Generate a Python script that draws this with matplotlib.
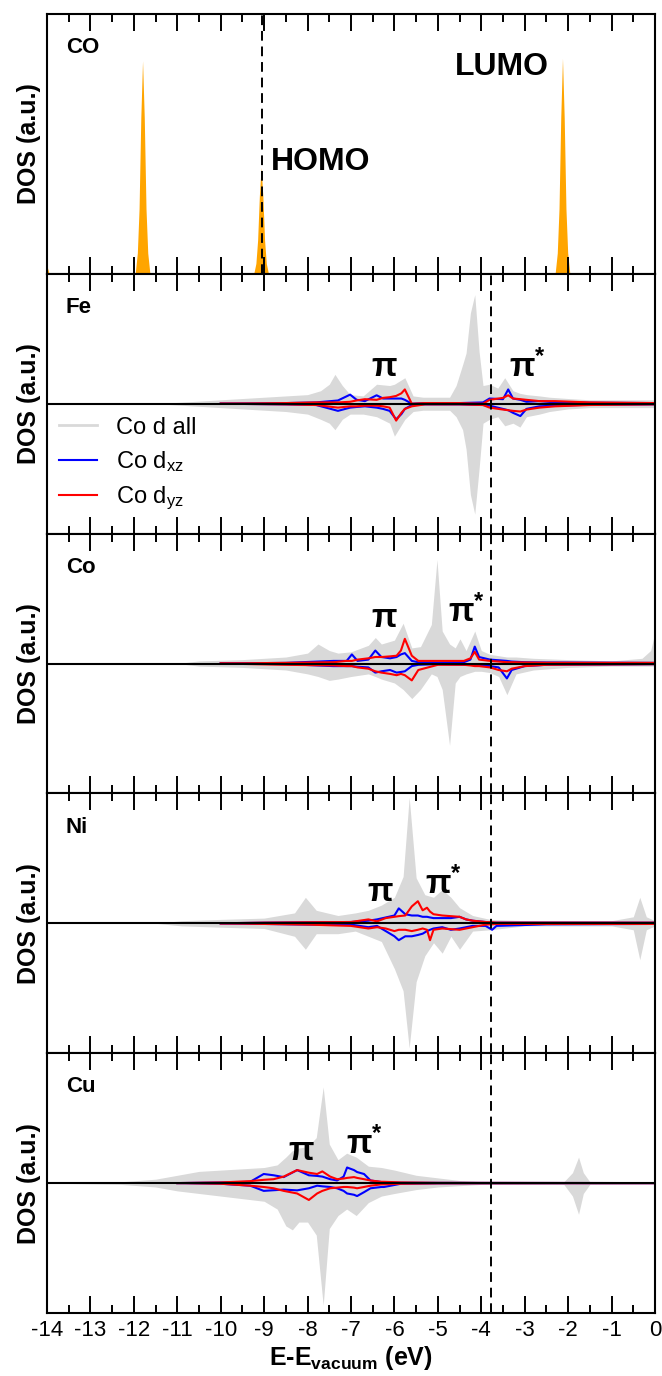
#! /usr/bin/env python3
#=======================================================================
# plot.py
#
# Projected DOS of CO on Fe, Co, Ni and Cu substrates.
#=======================================================================
import matplotlib
matplotlib.use('Agg')
import matplotlib.pyplot as plt
from matplotlib.lines import Line2D
from matplotlib.ticker import FixedLocator

# ----------------------------------------------------------------------
# Data (DOS in arbitrary units)
# ----------------------------------------------------------------------
# free CO molecule
co_e = [-14.0, -13.95, -11.97, -11.92, -11.88, -11.84, -11.8, -11.76, -11.72,
        -11.68, -11.63, -9.24, -9.19, -9.15, -9.11, -9.07, -9.03, -8.99,
        -8.95, -8.9, -2.3, -2.25, -2.21, -2.17, -2.13, -2.09, -2.05, -2.01,
        -1.96, 0.0]
co_dos = [0.03, 0.0, 0.0, 0.08, 0.25, 0.6, 0.82, 0.6, 0.25,
          0.08, 0.0, 0.0, 0.04, 0.13, 0.3, 0.41, 0.3, 0.13,
          0.04, 0.0, 0.0, 0.08, 0.25, 0.6, 0.83, 0.6, 0.25, 0.08,
          0.0, 0.0]
homo_co = -9.05
e_fermi = -3.78

# x axis ticks
xticks = [-14, -13, -12, -11, -10, -9, -8, -7, -6, -5, -4, -3, -2, -1, 0]
xminor = [-13.5, -12.5, -11.5, -10.5, -9.5, -8.5, -7.5, -6.5, -5.5, -4.5,
          -3.5, -2.5, -1.5, -0.5]

# Fe: Co d all (spin up / spin down)
fe_d_e = [-14.0, -11.5, -10.5, -10.0, -9.0, -8.5, -8.0, -7.7, -7.5, -7.37,
          -7.2, -7.02, -6.72, -6.41, -6.11, -6.0, -5.76, -5.57, -5.34, -4.73,
          -4.58, -4.43, -4.35, -4.25, -4.15, -4.05, -3.96, -3.81, -3.62, -3.46,
          -3.27, -3.11, -2.96, -2.66, -2.43, -2.0, -1.5, -1.0, -0.5, 0.0]
fe_d_up = [0.0, 0.0, 0.02, 0.03, 0.05, 0.06, 0.07, 0.1, 0.15, 0.226,
           0.14, 0.07, 0.06, 0.15, 0.14, 0.15, 0.2, 0.06, 0.05, 0.05,
           0.14, 0.3, 0.39, 0.7, 0.84, 0.4, 0.14, 0.15, 0.12, 0.2,
           0.1, 0.08, 0.07, 0.06, 0.05, 0.04, 0.03, 0.03, 0.03, 0.03]
fe_d_dn = [0.0, 0.0, 0.02, 0.03, 0.05, 0.06, 0.08, 0.12, 0.15, 0.2,
           0.12, 0.08, 0.08, 0.1, 0.15, 0.25, 0.12, 0.06, 0.05, 0.05,
           0.1, 0.2, 0.35, 0.7, 0.85, 0.5, 0.15, 0.12, 0.1, 0.17,
           0.15, 0.18, 0.1, 0.08, 0.06, 0.04, 0.03, 0.03, 0.03, 0.03]
# Fe: Co dxz / dyz (spin up / spin down)
fe_p_e = [-10.0, -8.5, -7.8, -7.3, -7.02, -6.87, -6.68, -6.41, -6.26, -6.11,
          -5.96, -5.84, -5.76, -5.6, -5.3, -4.5, -3.96, -3.81, -3.5, -3.38,
          -3.27, -3.1, -2.96, -2.66, -2.3, -1.5, 0.0]
fe_xz_up = [0.0, 0.005, 0.01, 0.025, 0.07, 0.03, 0.02, 0.065, 0.04, 0.04,
            0.04, 0.04, 0.03, 0.0, 0.005, 0.005, 0.01, 0.04, 0.035, 0.11,
            0.04, 0.03, 0.015, 0.02, 0.01, 0.008, 0.005]
fe_xz_dn = [0.0, 0.005, 0.01, 0.055, 0.03, 0.025, 0.02, 0.03, 0.04, 0.055,
            0.12, 0.08, 0.04, 0.01, 0.005, 0.005, 0.01, 0.015, 0.04, 0.05,
            0.07, 0.095, 0.04, 0.02, 0.015, 0.008, 0.005]
fe_yz_up = [0.0, 0.005, 0.01, 0.01, 0.015, 0.025, 0.035, 0.03, 0.045, 0.05,
            0.06, 0.08, 0.11, 0.0, 0.005, 0.005, 0.0, 0.03, 0.045, 0.065,
            0.04, 0.035, 0.03, 0.02, 0.02, 0.01, 0.005]
fe_yz_dn = [0.0, 0.005, 0.01, 0.03, 0.02, 0.02, 0.015, 0.015, 0.02, 0.03,
            0.13, 0.07, 0.04, 0.02, 0.005, 0.005, 0.01, 0.03, 0.045, 0.05,
            0.055, 0.06, 0.045, 0.03, 0.02, 0.01, 0.005]

# Co
co_d_e = [-14.0, -11.0, -10.5, -9.5, -8.5, -8.0, -7.76, -7.5, -7.3, -7.0,
          -6.6, -6.44, -6.3, -6.0, -5.8, -5.6, -5.4, -5.15, -5.02, -4.9,
          -4.73, -4.6, -4.49, -4.35, -4.15, -4.0, -3.8, -3.6, -3.41, -3.2,
          -2.8, -2.0, -1.0, -0.3, -0.1, 0.0]
co_d_up = [0.0, 0.0, 0.02, 0.03, 0.05, 0.08, 0.15, 0.1, 0.08, 0.09,
           0.14, 0.2, 0.15, 0.18, 0.31, 0.12, 0.13, 0.3, 0.8, 0.25,
           0.15, 0.12, 0.19, 0.1, 0.25, 0.1, 0.07, 0.06, 0.05, 0.05,
           0.04, 0.03, 0.02, 0.04, 0.1, 0.24]
co_d_dn = [0.0, 0.0, 0.02, 0.03, 0.05, 0.08, 0.1, 0.13, 0.12, 0.1,
           0.08, 0.1, 0.12, 0.15, 0.2, 0.27, 0.2, 0.08, 0.1, 0.2,
           0.63, 0.15, 0.1, 0.08, 0.06, 0.06, 0.07, 0.1, 0.24, 0.08,
           0.05, 0.03, 0.02, 0.02, 0.02, 0.02]
co_p_e = [-10.0, -8.5, -7.4, -7.1, -6.98, -6.85, -6.6, -6.44, -6.3, -6.1,
          -5.95, -5.85, -5.76, -5.6, -5.45, -5.0, -4.4, -4.25, -4.15, -4.05,
          -3.8, -3.6, -3.41, -3.3, -3.0, -2.5, 0.0]
co_xz_up = [0.0, 0.005, 0.02, 0.02, 0.07, 0.02, 0.03, 0.1, 0.05, 0.04,
            0.05, 0.07, 0.08, 0.02, 0.01, 0.005, 0.01, 0.03, 0.13, 0.05,
            0.03, 0.025, 0.02, 0.015, 0.01, 0.008, 0.005]
co_xz_dn = [0.0, 0.005, 0.02, 0.02, 0.02, 0.025, 0.03, 0.07, 0.06, 0.05,
            0.07, 0.065, 0.06, 0.02, 0.01, 0.005, 0.01, 0.01, 0.01, 0.01,
            0.02, 0.03, 0.115, 0.05, 0.02, 0.01, 0.005]
co_yz_up = [0.0, 0.005, 0.01, 0.02, 0.02, 0.03, 0.04, 0.05, 0.05, 0.055,
            0.06, 0.1, 0.19, 0.06, 0.02, 0.02, 0.02, 0.04, 0.09, 0.03,
            0.02, 0.015, 0.01, 0.01, 0.008, 0.006, 0.005]
co_yz_dn = [0.0, 0.01, 0.015, 0.02, 0.02, 0.03, 0.04, 0.06, 0.07, 0.08,
            0.09, 0.08, 0.09, 0.13, 0.05, 0.01, 0.01, 0.015, 0.02, 0.02,
            0.03, 0.05, 0.06, 0.04, 0.02, 0.01, 0.005]

# Ni
ni_d_e = [-14.0, -11.5, -10.9, -10.0, -9.0, -8.3, -8.05, -7.8, -7.3, -6.9,
          -6.6, -6.3, -6.0, -5.8, -5.66, -5.5, -5.3, -5.1, -4.9, -4.7,
          -4.5, -4.2, -3.8, -3.0, -1.0, -0.5, -0.35, -0.2, 0.0]
ni_d_up = [0.0, 0.0, 0.02, 0.03, 0.04, 0.08, 0.2, 0.1, 0.06, 0.08,
           0.1, 0.14, 0.2, 0.36, 0.97, 0.35, 0.22, 0.2, 0.26, 0.2,
           0.12, 0.06, 0.03, 0.02, 0.02, 0.05, 0.2, 0.05, 0.02]
ni_d_dn = [0.0, 0.0, 0.02, 0.03, 0.04, 0.1, 0.2, 0.08, 0.08, 0.06,
           0.1, 0.14, 0.35, 0.52, 0.96, 0.45, 0.25, 0.15, 0.23, 0.1,
           0.2, 0.06, 0.05, 0.02, 0.02, 0.05, 0.28, 0.05, 0.02]
ni_p_e = [-10.0, -9.0, -8.0, -7.0, -6.6, -6.4, -6.2, -6.0, -5.9, -5.75,
          -5.6, -5.46, -5.35, -5.25, -5.18, -5.1, -4.9, -4.7, -4.5, -4.35,
          -4.2, -3.9, -3.75, -3.65, -2.5, 0.0]
ni_xz_up = [0.0, 0.005, 0.008, 0.01, 0.02, 0.03, 0.045, 0.06, 0.115, 0.07,
            0.06, 0.06, 0.05, 0.05, 0.045, 0.04, 0.04, 0.04, 0.05, 0.03,
            0.02, 0.01, 0.005, 0.005, 0.005, 0.005]
ni_xz_dn = [0.0, 0.005, 0.01, 0.01, 0.03, 0.02, 0.06, 0.1, 0.13, 0.1,
            0.1, 0.09, 0.08, 0.06, 0.05, 0.04, 0.03, 0.05, 0.04, 0.03,
            0.02, 0.02, 0.05, 0.02, 0.008, 0.005]
ni_yz_up = [0.0, 0.005, 0.008, 0.01, 0.03, 0.015, 0.04, 0.05, 0.055, 0.06,
            0.13, 0.17, 0.1, 0.12, 0.09, 0.07, 0.06, 0.055, 0.05, 0.03,
            0.02, 0.01, 0.008, 0.005, 0.005, 0.005]
ni_yz_dn = [0.0, 0.005, 0.01, 0.02, 0.04, 0.03, 0.04, 0.06, 0.05, 0.05,
            0.06, 0.05, 0.04, 0.05, 0.13, 0.05, 0.04, 0.045, 0.05, 0.04,
            0.03, 0.01, 0.008, 0.005, 0.005, 0.005]

# Cu
cu_d_e = [-14.0, -12.3, -11.5, -11.0, -10.5, -10.0, -9.5, -9.0, -8.7, -8.5,
          -8.35, -8.2, -8.0, -7.8, -7.64, -7.5, -7.3, -7.1, -6.88, -6.6,
          -6.3, -6.0, -5.5, -5.0, -4.5, -4.0, -2.1, -1.9, -1.76, -1.65,
          -1.5, 0.0]
cu_d_up = [0.0, 0.01, 0.03, 0.06, 0.09, 0.1, 0.11, 0.12, 0.14, 0.2,
           0.25, 0.27, 0.28, 0.35, 0.74, 0.3, 0.18, 0.23, 0.2, 0.13,
           0.12, 0.1, 0.06, 0.04, 0.02, 0.01, 0.01, 0.08, 0.2, 0.08,
           0.01, 0.005]
cu_d_dn = [0.0, 0.01, 0.03, 0.06, 0.08, 0.1, 0.12, 0.14, 0.2, 0.33,
           0.36, 0.3, 0.3, 0.4, 0.94, 0.35, 0.25, 0.2, 0.25, 0.15,
           0.1, 0.08, 0.05, 0.03, 0.02, 0.01, 0.01, 0.1, 0.24, 0.08,
           0.01, 0.005]
cu_p_e = [-11.0, -10.0, -9.32, -9.01, -8.78, -8.55, -8.24, -7.97, -7.78, -7.66,
          -7.48, -7.32, -7.17, -7.09, -6.93, -6.86, -6.7, -6.55, -6.3, -6.24,
          -5.85, -5.0, 0.0]
cu_xz_up = [0.0, 0.005, 0.01, 0.07, 0.06, 0.046, 0.1, 0.06, 0.055, 0.05,
            0.03, 0.02, 0.05, 0.12, 0.1, 0.085, 0.07, 0.02, 0.008, 0.005,
            0.003, 0.002, 0.0]
cu_xz_dn = [0.0, 0.005, 0.02, 0.06, 0.055, 0.05, 0.056, 0.04, 0.02, 0.025,
            0.03, 0.04, 0.06, 0.08, 0.09, 0.1, 0.07, 0.04, 0.03, 0.03,
            0.005, 0.002, 0.0]
cu_yz_up = [0.0, 0.005, 0.015, 0.025, 0.03, 0.05, 0.1, 0.08, 0.07, 0.09,
            0.05, 0.03, 0.035, 0.04, 0.046, 0.04, 0.03, 0.02, 0.01, 0.01,
            0.005, 0.002, 0.0]
cu_yz_dn = [0.0, 0.005, 0.02, 0.03, 0.04, 0.06, 0.08, 0.13, 0.08, 0.06,
            0.04, 0.035, 0.03, 0.03, 0.035, 0.04, 0.03, 0.02, 0.01, 0.01,
            0.005, 0.002, 0.0]

metals = ['Fe', 'Co', 'Ni', 'Cu']
gray_data = [(fe_d_e, fe_d_up, fe_d_dn), (co_d_e, co_d_up, co_d_dn),
             (ni_d_e, ni_d_up, ni_d_dn), (cu_d_e, cu_d_up, cu_d_dn)]
pi_data = [(fe_p_e, fe_xz_up, fe_xz_dn, fe_yz_up, fe_yz_dn),
           (co_p_e, co_xz_up, co_xz_dn, co_yz_up, co_yz_dn),
           (ni_p_e, ni_xz_up, ni_xz_dn, ni_yz_up, ni_yz_dn),
           (cu_p_e, cu_xz_up, cu_xz_dn, cu_yz_up, cu_yz_dn)]
# positions of the pi / pi* annotations (energy, DOS)
pi_pos = [(-6.24, 0.28), (-6.24, 0.35), (-6.34, 0.24), (-8.15, 0.24)]
pistar_pos = [(-2.93, 0.28), (-4.34, 0.40), (-4.88, 0.30), (-6.68, 0.30)]

# ----------------------------------------------------------------------
# Plot
# ----------------------------------------------------------------------
plt.rcParams['font.family'] = ['Liberation Sans', 'DejaVu Sans']
plt.rcParams['mathtext.fontset'] = 'custom'
plt.rcParams['mathtext.rm'] = 'Liberation Sans'
plt.rcParams['mathtext.it'] = 'Liberation Sans:italic'
plt.rcParams['mathtext.bf'] = 'Liberation Sans:bold'
plt.rcParams['axes.unicode_minus'] = False

gray = '#d9d9d9'
fig, axes = plt.subplots(5, 1, figsize=(6.62, 13.76), dpi=100, sharex=True,
                         gridspec_kw=dict(hspace=0))
fig.subplots_adjust(left=0.071, right=0.9894, top=0.9898, bottom=0.0458)

for ax in axes:
    ax.set_xlim(-14, 0)
    ax.xaxis.set_major_locator(FixedLocator(xticks))
    ax.xaxis.set_minor_locator(FixedLocator(xminor))
    ax.tick_params(which='both', direction='in', top=True, bottom=True,
                   left=False, labelleft=False, width=1.4)
    ax.tick_params(which='major', length=12, labelsize=16, pad=5)
    ax.tick_params(which='minor', length=6)
    for s in ax.spines.values():
        s.set_linewidth(1.5)
    ax.set_ylabel('DOS (a.u.)', fontsize=18, fontweight='bold', labelpad=4)

# CO molecule
ax = axes[0]
ax.fill_between(co_e, 0, co_dos, color='#ffa500', lw=0)
ax.set_ylim(0, 1)
ax.axvline(homo_co, color='k', ls=(0, (5, 3)), lw=1.4)
ax.text(0.031, 0.87, 'CO', transform=ax.transAxes, fontsize=16,
        fontweight='bold', va='center')
ax.text(-8.85, 0.43, 'HOMO', fontsize=23, fontweight='bold', va='center')
ax.text(-2.45, 0.795, 'LUMO', fontsize=23, fontweight='bold', va='center',
        ha='right')

# metal substrates
for i, name in enumerate(metals):
    ax = axes[i + 1]
    e, up, dn = gray_data[i]
    ax.fill_between(e, [-v for v in dn], up, color=gray, lw=0)
    pe, xz_up, xz_dn, yz_up, yz_dn = pi_data[i]
    ax.plot(pe, xz_up, color='#0000ff', lw=1.5)
    ax.plot(pe, [-v for v in xz_dn], color='#0000ff', lw=1.5)
    ax.plot(pe, yz_up, color='#ff0000', lw=1.5)
    ax.plot(pe, [-v for v in yz_dn], color='#ff0000', lw=1.5)
    ax.axhline(0, color='k', lw=1.5)
    ax.axvline(e_fermi, color='k', ls=(0, (5, 3)), lw=1.4)
    ax.set_ylim(-1, 1)
    ax.text(0.031, 0.87, name, transform=ax.transAxes, fontsize=16,
            fontweight='bold', va='center')
    ax.text(pi_pos[i][0], pi_pos[i][1], 'π', fontsize=24, fontweight='bold',
            ha='center', va='center')
    ax.text(pistar_pos[i][0], pistar_pos[i][1], r'π$^{\mathbf{*}}$',
            fontsize=24, fontweight='bold', ha='center', va='center')

handles = [Line2D([], [], color=gray, lw=2),
           Line2D([], [], color='#0000ff', lw=1.5),
           Line2D([], [], color='#ff0000', lw=1.5)]
labels = ['Co d all', r'Co d$_{\mathrm{xz}}$', r'Co d$_{\mathrm{yz}}$']
axes[1].legend(handles, labels, loc='upper left', bbox_to_anchor=(0.02, 0.45),
               frameon=False, fontsize=17, handlelength=1.6,
               handletextpad=0.8, labelspacing=0.45, borderpad=0,
               borderaxespad=0)

axes[-1].set_xlabel(r'E-E$_{\mathbf{vacuum}}$ (eV)', fontsize=18,
                    fontweight='bold', labelpad=2)

fig.savefig('out.png', dpi=100)
